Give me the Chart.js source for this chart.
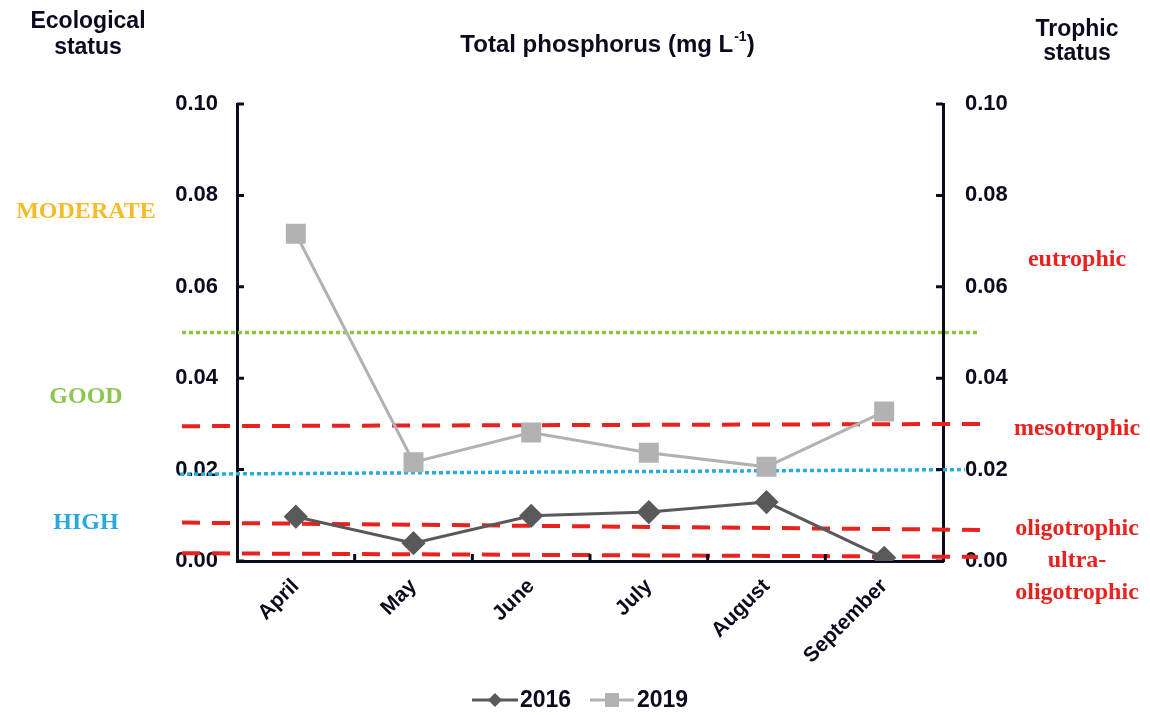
<!DOCTYPE html>
<html>
<head>
<meta charset="utf-8">
<script src="https://cdn.jsdelivr.net/npm/chart.js@4.4.1/dist/chart.umd.min.js"></script>
<style>
html, body { margin: 0; padding: 0; background: #fff; }
#wrap { position: relative; width: 1150px; height: 715px; }
</style>
</head>
<body>
<div id="wrap"><canvas id="graf_fosforo" width="1150" height="715"></canvas></div>
<script>
// ==================== DATOS ======================
const meses = ['April', 'May', 'June', 'July', 'August', 'September'];
const fosforo2016 = [0.0097, 0.0039, 0.0099, 0.0107, 0.0129, 0.0007];
const fosforo2019 = [0.0716, 0.0216, 0.0281, 0.0237, 0.0206, 0.0327];
const ticksY = [0, 0.02, 0.04, 0.06, 0.08, 0.10];

// limites de clase (valor en el borde izq. y der., en el original estan dibujados a mano)
const umbralNombres = ['good/moderate', 'high/good', 'meso/eu', 'oligo/meso', 'ultra/oligo'];
const umbralIzq = [0.050, 0.019, 0.0295, 0.0084, 0.0017];
const umbralDer = [0.050, 0.020, 0.0300, 0.0068, 0.0009];

const estadoEcologico = ['MODERATE', 'GOOD', 'HIGH'];
const estadoTrofico = ['eutrophic', 'mesotrophic', 'oligotrophic', 'ultra-', 'oligotrophic'];

const NEGRO = '#0b0b1e';
const ROJO = '#e8231f';
const SANS = '"Liberation Sans", Arial, sans-serif';
const SERIF = '"Liberation Serif", "Times New Roman", serif';

// estilos de las lineas de umbral (mismo orden que umbralNombres)
const estiloUmbral = [
    { color: '#8cc63f', width: 3.5, dash: [4, 3], izq: 55, der: 37 },
    { color: '#29abe2', width: 3.5, dash: [4, 3], izq: 57, der: 22 },
    { color: ROJO, width: 4, dash: [18, 12], izq: 55, der: 40 },
    { color: ROJO, width: 4, dash: [18, 12], izq: 55, der: 37 },
    { color: ROJO, width: 4, dash: [18, 12], izq: 55, der: 35 },
];

const lineasUmbral = {
    id: 'lineasUmbral',
    beforeDatasetsDraw(chart) {
        const { ctx, chartArea } = chart;
        const y = chart.scales.y;
        ctx.save();
        umbralNombres.forEach((n, i) => {
            const e = estiloUmbral[i];
            ctx.strokeStyle = e.color;
            ctx.lineWidth = e.width;
            ctx.setLineDash(e.dash);
            ctx.beginPath();
            ctx.moveTo(chartArea.left - e.izq, y.getPixelForValue(umbralIzq[i]));
            ctx.lineTo(chartArea.right + e.der, y.getPixelForValue(umbralDer[i]));
            ctx.stroke();
        });
        ctx.restore();
    }
};

const textosYEjes = {
    id: 'textosYEjes',
    afterDraw(chart) {
        const { ctx, chartArea } = chart;
        const y = chart.scales.y;
        const x = chart.scales.x;
        ctx.save();

        // marcas de los ejes hacia adentro
        ctx.strokeStyle = NEGRO;
        ctx.lineWidth = 3;
        ticksY.forEach(v => {
            const py = y.getPixelForValue(v);
            ctx.beginPath();
            ctx.moveTo(chartArea.left, py); ctx.lineTo(chartArea.left + 7, py);
            ctx.moveTo(chartArea.right, py); ctx.lineTo(chartArea.right - 7, py);
            ctx.stroke();
        });
        for (let k = 1; k < meses.length; k++) {
            const px = (x.getPixelForValue(k - 1) + x.getPixelForValue(k)) / 2;
            ctx.beginPath();
            ctx.moveTo(px, chartArea.bottom); ctx.lineTo(px, chartArea.bottom - 7);
            ctx.stroke();
        }

        // encabezados
        ctx.fillStyle = NEGRO;
        ctx.textAlign = 'center';
        ctx.textBaseline = 'middle';
        ctx.font = 'bold 23px ' + SANS;
        ctx.fillText('Ecological', 88, 22);
        ctx.fillText('status', 88, 48);
        ctx.fillText('Trophic', 1077, 30);
        ctx.fillText('status', 1077, 54);

        const t1 = 'Total phosphorus (mg L';
        ctx.font = 'bold 24px ' + SANS;
        const w1 = ctx.measureText(t1).width;
        ctx.font = 'bold 14px ' + SANS;
        const w2 = ctx.measureText('-1').width;
        ctx.font = 'bold 24px ' + SANS;
        const w3 = ctx.measureText(')').width;
        let x0 = 607 - (w1 + w2 + w3) / 2;
        ctx.textAlign = 'left';
        ctx.fillText(t1, x0, 45);
        ctx.font = 'bold 14px ' + SANS;
        ctx.fillText('-1', x0 + w1 + 1, 37);
        ctx.font = 'bold 24px ' + SANS;
        ctx.fillText(')', x0 + w1 + w2 + 1, 45);

        // estado ecologico (izquierda)
        ctx.font = 'bold 24px ' + SERIF;
        ctx.textAlign = 'center';
        const colEco = ['#f6bb2a', '#8cc652', '#2aa8e0'];
        const valEco = [0.0765, 0.036, 0.0083];
        estadoEcologico.forEach((t, i) => {
            ctx.fillStyle = colEco[i];
            ctx.fillText(t, 86, y.getPixelForValue(valEco[i]));
        });

        // estado trofico (derecha)
        ctx.fillStyle = ROJO;
        ctx.textAlign = 'center';
        const valTro = [0.066, 0.029, 0.007, 0.0, -0.007];
        estadoTrofico.forEach((t, i) => {
            ctx.fillText(t, 1077, y.getPixelForValue(valTro[i]));
        });

        // leyenda
        const ly = 700;
        ctx.lineWidth = 3;
        ctx.strokeStyle = '#59595c';
        ctx.fillStyle = '#59595c';
        ctx.beginPath(); ctx.moveTo(472, ly); ctx.lineTo(518, ly); ctx.stroke();
        ctx.beginPath();
        ctx.moveTo(495, ly - 7); ctx.lineTo(502, ly); ctx.lineTo(495, ly + 7); ctx.lineTo(488, ly);
        ctx.closePath(); ctx.fill();
        ctx.strokeStyle = '#b2b2b2';
        ctx.fillStyle = '#b2b2b2';
        ctx.beginPath(); ctx.moveTo(590, ly); ctx.lineTo(634, ly); ctx.stroke();
        ctx.fillRect(605, ly - 7, 14, 14);
        ctx.fillStyle = NEGRO;
        ctx.font = 'bold 23px ' + SANS;
        ctx.textAlign = 'left';
        ctx.fillText('2016', 520, ly + 1);
        ctx.fillText('2019', 637, ly + 1);

        ctx.restore();
    }
};

const ejeY = (pos, ancho, pad) => ({
    type: 'linear',
    position: pos,
    min: 0,
    max: 0.1,
    afterFit: s => { s.width = ancho; },
    afterBuildTicks: s => { s.ticks = ticksY.map(v => ({ value: v })); },
    grid: { display: false, drawTicks: false },
    border: { display: true, color: NEGRO, width: 3 },
    ticks: {
        padding: pad,
        color: NEGRO,
        font: { family: SANS, size: 22, weight: 'bold' },
        callback: v => v.toFixed(2)
    }
});

const $ctx = document.getElementById('graf_fosforo').getContext('2d');

const chart = new Chart($ctx, {
    type: 'line',
    data: {
        labels: meses,
        datasets: [
            {
                label: '2016',
                data: fosforo2016,
                borderColor: '#59595c',
                backgroundColor: '#59595c',
                borderWidth: 3,
                pointStyle: 'rectRot',
                pointRadius: 10,
                yAxisID: 'y'
            },
            {
                label: '2019',
                data: fosforo2019,
                borderColor: '#b2b2b2',
                backgroundColor: '#b2b2b2',
                borderWidth: 3,
                pointStyle: 'rect',
                pointRadius: 12,
                yAxisID: 'y'
            }
        ]
    },
    options: {
        responsive: false,
        animation: false,
        layout: { padding: { top: 104, left: 0, right: 0, bottom: 0 } },
        plugins: {
            legend: { display: false },
            title: { display: false },
            tooltip: { enabled: false }
        },
        scales: {
            x: {
                offset: true,
                afterFit: s => { s.height = 154; },
                grid: { display: false, drawTicks: false },
                border: { display: true, color: NEGRO, width: 3 },
                ticks: {
                    autoSkip: false,
                    minRotation: 45,
                    maxRotation: 45,
                    padding: 13,
                    color: NEGRO,
                    font: { family: SANS, size: 21, weight: 'bold' }
                }
            },
            y: ejeY('left', 237, 19),
            y1: ejeY('right', 207, 22)
        }
    },
    plugins: [lineasUmbral, textosYEjes]
});
</script>
</body>
</html>
